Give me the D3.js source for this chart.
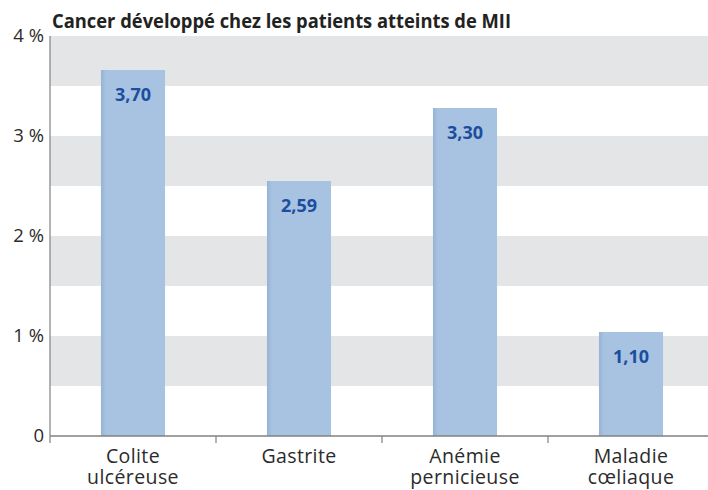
<!DOCTYPE html>
<html>
<head>
<meta charset="utf-8">
<script src="https://cdn.jsdelivr.net/npm/d3@7"></script>
<style>
  body { margin: 0; background: #fff; }
  text { font-family: "Open Sans", "Noto Sans", sans-serif; }
</style>
</head>
<body>
<svg id="chart"></svg>
<script>
// valeurs du graphique
var categories = [["Colite", "ulcéreuse"], ["Gastrite"], ["Anémie", "pernicieuse"], ["Maladie", "cœliaque"]];
var heights = [3.66, 2.55, 3.28, 1.04];     // hauteur des barres
var labels = ["3,70", "2,59", "3,30", "1,10"];
var yTicks = [0, 1, 2, 3, 4];
var bands = [0.5, 1.5, 2.5, 3.5];            // bandes grises (début)

var W = 708, H = 490;
var margin = { top: 36, left: 50, bottom: 54 };

var svg = d3.select("#chart").attr("width", W).attr("height", H);

var x = d3.scaleBand()
  .domain(d3.range(categories.length))
  .range([margin.left, margin.left + 166 * categories.length])
  .paddingInner(0.614).paddingOuter(0.307);

var y = d3.scaleLinear().domain([0, 4]).range([H - margin.bottom, margin.top]);

// bandes grises
svg.selectAll(".band")
  .data(bands)
  .enter().append("rect")
  .attr("x", margin.left)
  .attr("width", W - margin.left)
  .attr("y", d => y(d + 0.5))
  .attr("height", d => y(d) - y(d + 0.5))
  .style("fill", "#e4e5e7");

// dégradé léger sur le bord gauche des barres
var grad = svg.append("defs").append("linearGradient").attr("id", "barGrad");
grad.append("stop").attr("offset", "0%").attr("stop-color", "#98b2d4");
grad.append("stop").attr("offset", "8%").attr("stop-color", "#a8c2e2");
grad.append("stop").attr("offset", "100%").attr("stop-color", "#a8c2e2");

svg.selectAll(".bar")
  .data(heights)
  .enter().append("rect")
  .attr("x", (d, i) => x(i))
  .attr("width", x.bandwidth())
  .attr("y", d => y(d))
  .attr("height", d => y(0) - y(d))
  .style("fill", "url(#barGrad)");

svg.selectAll(".val")
  .data(labels)
  .enter().append("text")
  .attr("x", (d, i) => x(i) + x.bandwidth() / 2)
  .attr("y", (d, i) => y(heights[i]) + 31)
  .attr("text-anchor", "middle")
  .style("font-size", "18px")
  .style("font-weight", "bold")
  .style("fill", "#1b4f9e")
  .text(d => d);

// axes
var y0 = y(0);
svg.append("line")
  .attr("x1", margin.left).attr("x2", margin.left)
  .attr("y1", margin.top).attr("y2", y0 + 7)
  .style("stroke", "#808080").style("stroke-width", 1.2);
svg.append("line")
  .attr("x1", margin.left).attr("x2", W)
  .attr("y1", y0).attr("y2", y0)
  .style("stroke", "#808080").style("stroke-width", 1.5);

svg.selectAll(".xtick")
  .data(d3.range(1, categories.length))
  .enter().append("line")
  .attr("x1", i => x(i) - x.step() * x.paddingInner() / 2)
  .attr("x2", i => x(i) - x.step() * x.paddingInner() / 2)
  .attr("y1", y0).attr("y2", y0 + 7)
  .style("stroke", "#808080").style("stroke-width", 1.2);

svg.selectAll(".ylab")
  .data(yTicks)
  .enter().append("text")
  .attr("x", 44)
  .attr("y", d => y(d) + 6)
  .attr("text-anchor", "end")
  .style("font-size", "18.5px")
  .style("fill", "#2b2b2b")
  .text(d => d === 0 ? "0" : d + " %");

var xl = svg.selectAll(".xlab")
  .data(categories)
  .enter().append("text")
  .attr("text-anchor", "middle")
  .style("font-size", "19.5px")
  .style("letter-spacing", "0.4px")
  .style("fill", "#2b2b2b");
xl.each(function (d, i) {
  var t = d3.select(this);
  d.forEach(function (line, k) {
    t.append("tspan")
      .attr("x", x(i) + x.bandwidth() / 2)
      .attr("y", 463 + k * 21)
      .text(line);
  });
});

// titre
svg.append("text")
  .attr("x", 52).attr("y", 28)
  .attr("textLength", 459)
  .attr("lengthAdjust", "spacingAndGlyphs")
  .style("font-size", "19px")
  .style("font-weight", "bold")
  .style("fill", "#222")
  .text("Cancer développé chez les patients atteints de MII");
</script>
</body>
</html>
